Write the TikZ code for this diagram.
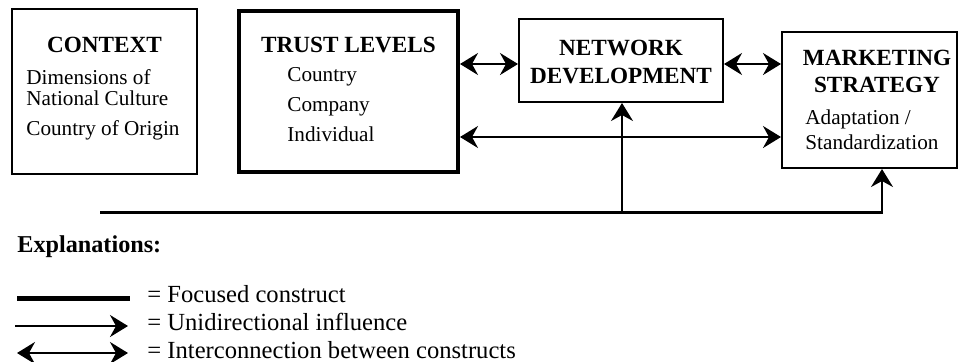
\documentclass[tikz,border=0pt]{standalone}
\usepackage{fontspec}
\setmainfont{Liberation Serif}
\usetikzlibrary{arrows.meta}

\tikzset{
  box/.style={draw, rectangle, line width=1pt, inner sep=0pt},
  ttl/.style={font=\fontsize{11.6}{13}\selectfont\bfseries, anchor=base, inner sep=0pt},
  txt/.style={font=\fontsize{10.6}{12}\selectfont, anchor=base west, inner sep=0pt},
  key/.style={font=\fontsize{12.3}{14}\selectfont, anchor=base west, inner sep=0pt},
  arr/.style={line width=1pt, -{Stealth[length=9pt, width=11pt, inset=3pt]}},
  both/.style={line width=1pt, {Stealth[length=9pt, width=11pt, inset=3pt]}-{Stealth[length=9pt, width=11pt, inset=3pt]}},
}

\begin{document}
\begin{tikzpicture}[x=0.5pt, y=-0.5pt]
  \useasboundingbox (0,0) rectangle (959,361);

  \node [box, minimum width=92.5pt, minimum height=82.5pt] (context) at (104.5,91.5) {};
  \node [box, line width=2pt, minimum width=109.5pt, minimum height=80.5pt] (trust) at (348.5,91.5) {};
  \node [box, minimum width=102pt, minimum height=41.5pt] (net) at (621,60.5) {};
  \node [box, minimum width=87.5pt, minimum height=68pt] (mkt) at (869.5,100) {};

  \node [ttl] (contextT) at (104.5,52) {CONTEXT};
  \node [txt] (context1) at (26,84) {Dimensions of};
  \node [txt] (context2) at (26,105) {National Culture};
  \node [txt] (context3) at (26,135) {Country of Origin};

  \node [ttl] (trustT) at (348.5,52) {TRUST LEVELS};
  \node [txt] (trust1) at (287,81) {Country};
  \node [txt] (trust2) at (287,111) {Company};
  \node [txt] (trust3) at (287,141) {Individual};

  \node [ttl] (netT1) at (621,55) {NETWORK};
  \node [ttl] (netT2) at (621,83) {DEVELOPMENT};

  \node [ttl] (mktT1) at (877,65) {MARKETING};
  \node [ttl] (mktT2) at (877,92) {STRATEGY};
  \node [txt] (mkt1) at (805,124) {Adaptation /};
  \node [txt] (mkt2) at (805,149) {Standardization};

  \coordinate (upper) at (0,64);
  \coordinate (lower) at (0,137);
  \draw [both] (trust.east |- upper) -- (net.west |- upper);
  \draw [both] (net.east |- upper) -- (mkt.west |- upper);
  \draw [both] (trust.east |- lower) -- (mkt.west |- lower);

  \coordinate (feed) at (100,212);
  \coordinate (fork) at (622,212);
  \coordinate (corner) at (882,212);
  \draw [line width=1.5pt] (feed) -- ([xshift=0.5pt]corner);
  \draw [arr] (fork) -- (fork |- net.south);
  \draw [arr] ([yshift=-0.75pt]corner) -- (corner |- mkt.south);

  \node [ttl, font=\fontsize{12.1}{14}\selectfont\bfseries, anchor=base west] (expl) at (17,252) {Explanations:};
  \node [key] (key1) at (147,302) {= Focused construct};
  \node [key] (key2) at (147,330) {= Unidirectional influence};
  \node [key] (key3) at (147,358) {= Interconnection between constructs};

  \coordinate (k1a) at (17,298);  \coordinate (k1b) at (130,298);
  \coordinate (k2a) at (15,326);  \coordinate (k2b) at (128,326);
  \coordinate (k3a) at (17,353);  \coordinate (k3b) at (128,353);
  \draw [line width=2.5pt] (k1a) -- (k1b);
  \draw [arr] (k2a) -- (k2b);
  \draw [both] (k3a) -- (k3b);
\end{tikzpicture}
\end{document}
